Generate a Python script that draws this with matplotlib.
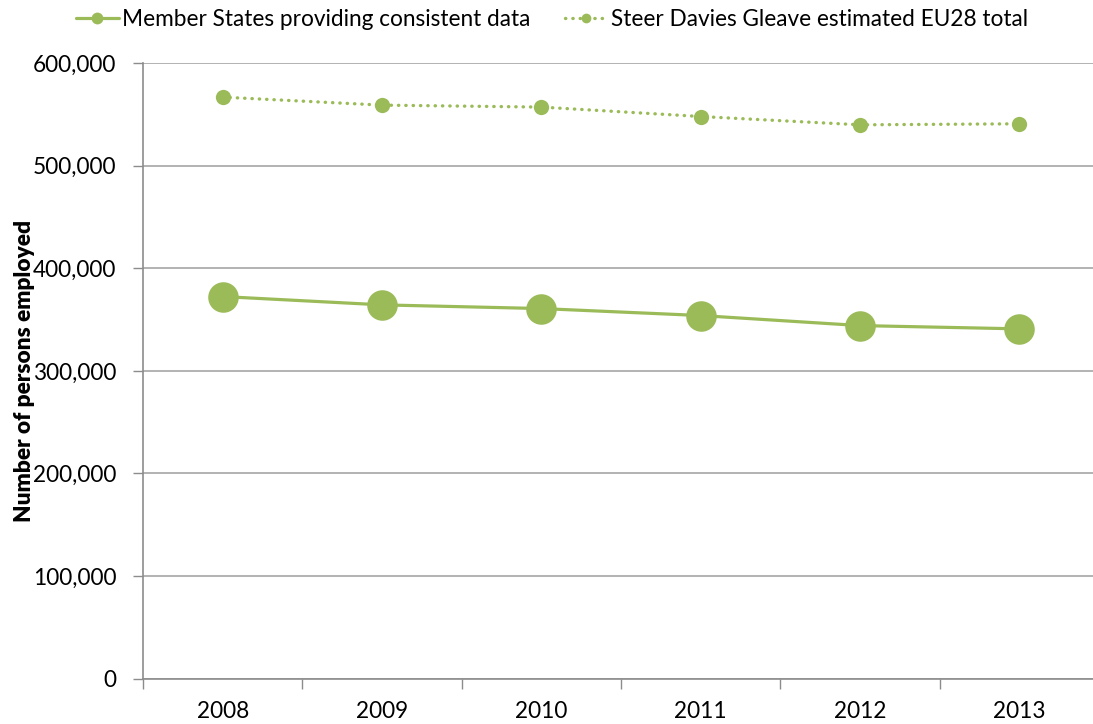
import matplotlib
matplotlib.use("Agg")
import matplotlib.pyplot as plt
from matplotlib.ticker import FuncFormatter, FixedLocator, MultipleLocator

years = ["2008", "2009", "2010", "2011", "2012", "2013"]
consistent_data = [372500, 364400, 360800, 354000, 344200, 341000]
eu28_estimate = [567000, 559200, 557300, 548100, 540000, 541000]

green = "#9BBB59"
grid_grey = "#A6A6A6"
axis_grey = "#8C8C8C"
fs = 16.3

plt.rcParams["font.family"] = ["Lato", "DejaVu Sans"]

W, H = 1093, 724
fig = plt.figure(figsize=(W / 100, H / 100), dpi=100)

left_px, right_px, top_px, bottom_px = 143, 1099, 63.3, 678.5
ax = fig.add_axes([left_px / W, 1 - bottom_px / H,
                   (right_px - left_px) / W, (bottom_px - top_px) / H])

x = [i + 0.5 for i in range(len(years))]

ax.plot(x, consistent_data, color=green, lw=2.3, marker="o", markersize=22,
        markeredgewidth=0, label="Member States providing consistent data",
        solid_capstyle="round", zorder=3)
ax.plot(x, eu28_estimate, color=green, lw=2.4, marker="o", markersize=11,
        markeredgewidth=0, linestyle=(0, (0.1, 2.1)), dash_capstyle="round",
        label="Steer Davies Gleave estimated EU28 total", zorder=3)

ax.set_xlim(0, len(years))
ax.set_ylim(0, 600000)
ax.yaxis.set_major_locator(MultipleLocator(100000))
ax.yaxis.set_major_formatter(FuncFormatter(lambda v, p: f"{int(v):,}"))

ax.xaxis.set_major_locator(FixedLocator(range(len(years) + 1)))
ax.xaxis.set_major_formatter(FuncFormatter(lambda v, p: ""))
ax.xaxis.set_minor_locator(FixedLocator(x))
ax.set_xticklabels(years, minor=True)
ax.tick_params(axis="x", which="major", direction="out", length=7,
               width=1, color=axis_grey)
ax.tick_params(axis="x", which="minor", length=0, pad=16, labelsize=fs,
               labelcolor="black")
ax.tick_params(axis="y", direction="out", length=7, width=1,
               color=axis_grey, pad=12, labelsize=fs, labelcolor="black")

ax.grid(axis="y", color=grid_grey, lw=1.2, zorder=0)
ax.set_axisbelow(True)
for side in ("top", "right"):
    ax.spines[side].set_visible(False)
for side in ("left", "bottom"):
    ax.spines[side].set_color(axis_grey)
    ax.spines[side].set_linewidth(1.2)

ax.set_ylabel("Number of persons employed", fontsize=fs, fontweight="heavy")
ax.yaxis.set_label_coords(-108 / (right_px - left_px), 0.5)

leg_handles, leg_labels = ax.get_legend_handles_labels()
leg = fig.legend(leg_handles, leg_labels, loc="center", ncol=2,
                 bbox_to_anchor=(552 / W, 1 - 19 / H), frameon=False,
                 fontsize=fs, handlelength=1.9, handletextpad=0.15,
                 columnspacing=1.5)
for line, ms in zip(leg.get_lines(), (8.5, 7.0)):
    line.set_markersize(ms)

fig.savefig("out.png", dpi=100)
